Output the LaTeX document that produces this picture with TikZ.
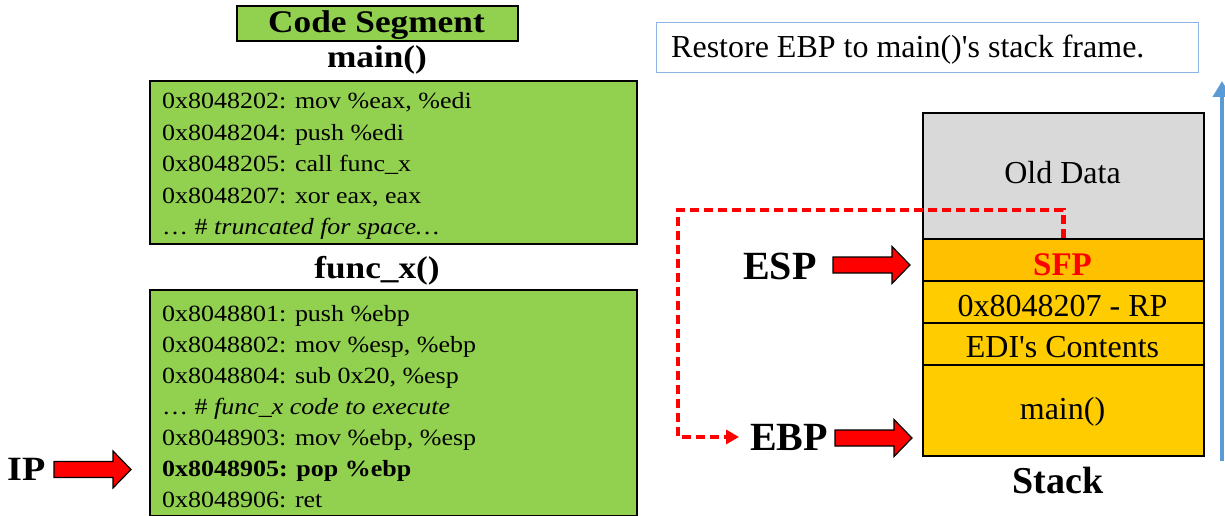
\documentclass[tikz,border=0pt]{standalone}
\usepackage{fontspec}
\setmainfont{Liberation Serif}
\newfontfamily\widefont[FakeStretch=1.12]{Liberation Serif}
\newfontfamily\plainserif[Ligatures=TeXOff]{Liberation Serif}
\usetikzlibrary{arrows.meta}

\definecolor{codegreen}{HTML}{92D050}
\definecolor{olddata}{HTML}{D9D9D9}
\definecolor{sfpfill}{HTML}{FFC000}
\definecolor{stackfill}{HTML}{FFCC00}
\definecolor{noteblue}{HTML}{5B9BD5}
\definecolor{noteborder}{HTML}{8EB4E3}

\newcommand{\codefont}{\widefont\fontsize{23.2}{28}\selectfont}
\newcommand{\titlefont}{\widefont\bfseries\fontsize{31.5}{36}\selectfont}
\newcommand{\cellfont}{\plainserif\fontsize{32}{38}\selectfont}
\newcommand{\regfont}{\bfseries\fontsize{40}{46}\selectfont}

\tikzset{
  codebox/.style={draw=black, line width=1.6pt, fill=codegreen, inner sep=0pt, anchor=north west},
  codeline/.style={anchor=base west, inner sep=0pt, font=\codefont},
  titletext/.style={anchor=base, inner sep=0pt, font=\titlefont},
  stackcell/.style={draw=black, line width=1.6pt, minimum width=281pt, inner sep=0pt, anchor=north west},
  celltext/.style={anchor=base, inner sep=0pt, font=\cellfont},
  regtext/.style={anchor=base west, inner sep=0pt, font=\regfont},
  blockarrow/.style={draw=black, line width=1.2pt, fill=red, line join=miter},
  dashconn/.style={draw=red, line width=4.6pt, dash pattern=on 9pt off 5pt,
    -{Triangle[length=13pt,width=14pt]}},
  uparrow/.style={draw=noteblue, line width=4.5pt, -{Triangle[length=16pt,width=18pt]}},
}

% thick red pointer arrow whose tip sits at the given coordinate
\newcommand{\blockarrowat}[1]{%
  \draw[blockarrow, shift={(#1)}] (0,0) -- (-18,-18.5) -- (-18,-8) -- (-77,-8)
    -- (-77,8) -- (-18,8) -- (-18,18.5) -- cycle;}

\begin{document}
\begin{tikzpicture}[x=1pt, y=-1pt]
\useasboundingbox (0,0) rectangle (1225,516);

% ---------- code segment ----------
\node[codebox, minimum width=281pt, minimum height=35pt] (segbox) at (236,5) {};
\node[titletext] (segtitle) at (376.5,33) {Code Segment};

\node[titletext] (maintitle) at (377,68) {main()};
\node[codebox, minimum width=487pt, minimum height=163pt] (mainbox) at (149,80) {};
\node[codeline] (m1) at (162,108.5) {0x8048202: mov \%eax, \%edi};
\node[codeline] (m2) at (162,140) {0x8048204: push \%edi};
\node[codeline] (m3) at (162,171.5) {0x8048205: call func\_x};
\node[codeline] (m4) at (162,203) {0x8048207: xor eax, eax};
\node[codeline] (m5) at (162,234.5) {… \# \textit{truncated for space…}};

\node[titletext] (functitle) at (377,278) {func\_x()};
\node[codebox, minimum width=487pt, minimum height=226pt] (funcbox) at (149,289) {};
\node[codeline] (f1) at (162,321) {0x8048801: push \%ebp};
\node[codeline] (f2) at (162,352.1) {0x8048802: mov \%esp, \%ebp};
\node[codeline] (f3) at (162,383.2) {0x8048804: sub 0x20, \%esp};
\node[codeline] (f4) at (162,414.3) {… \# \textit{func\_x code to execute}};
\node[codeline] (f5) at (162,445.4) {0x8048903: mov \%ebp, \%esp};
\node[codeline] (f6) at (162,476.5) {\bfseries 0x8048905: pop \%ebp};
\node[codeline] (f7) at (162,507.6) {0x8048906: ret};

% instruction pointer
\node[anchor=base west, inner sep=0pt, font=\widefont\bfseries\fontsize{34}{38}\selectfont] (iplabel) at (7,480) {IP};
\coordinate (iptip) at (131,469.5);
\blockarrowat{iptip}

% ---------- note ----------
\node[draw=noteborder, line width=1.2pt, fill=white, minimum width=542pt, minimum height=50pt,
      inner sep=0pt, anchor=north west] (notebox) at (656,22) {};
\node[anchor=base west, inner sep=0pt, font=\cellfont] (notetext) at (671,58) {Restore EBP to main()'s stack frame.};

% ---------- stack ----------
\node[stackcell, fill=olddata, minimum height=126pt] (old) at (922,112) {};
\node[stackcell, fill=sfpfill, minimum height=42pt] (sfp) at (922,238) {};
\node[stackcell, fill=stackfill, minimum height=42pt] (rp) at (922,280) {};
\node[stackcell, fill=stackfill, minimum height=42pt] (edi) at (922,322) {};
\node[stackcell, fill=stackfill, minimum height=91pt] (mainframe) at (922,364) {};

\node[celltext] (oldtext) at (1062.5,183) {Old Data};
\node[celltext, font=\bfseries\fontsize{33}{38}\selectfont, text=red] (sfptext) at (1062.5,275) {SFP};
\node[celltext] (rptext) at (1062.5,316) {0x8048207 - RP};
\node[celltext] (editext) at (1062.5,357) {EDI's Contents};
\node[celltext] (maintext) at (1062.5,419) {main()};
\node[anchor=base, inner sep=0pt, font=\bfseries\fontsize{38}{44}\selectfont] (stacklabel) at (1058,493) {Stack};

% growth direction of the stack
\coordinate (upbase) at (1222,461);
\coordinate (uptip) at (1222,81);
\draw[uparrow] (upbase) -- (uptip);

% registers
\node[regtext] (esplabel) at (743,279) {ESP};
\coordinate (esptip) at (910,265);
\blockarrowat{esptip}
\node[regtext] (ebplabel) at (750,450) {EBP};
\coordinate (ebptip) at (912,438);
\blockarrowat{ebptip}

% saved frame pointer goes back into EBP
\coordinate (dashcorner) at (678,210);
\draw[dashconn, shorten >=11pt] (sfp.north) |- (dashcorner) |- (ebplabel.west);
\end{tikzpicture}
\end{document}
